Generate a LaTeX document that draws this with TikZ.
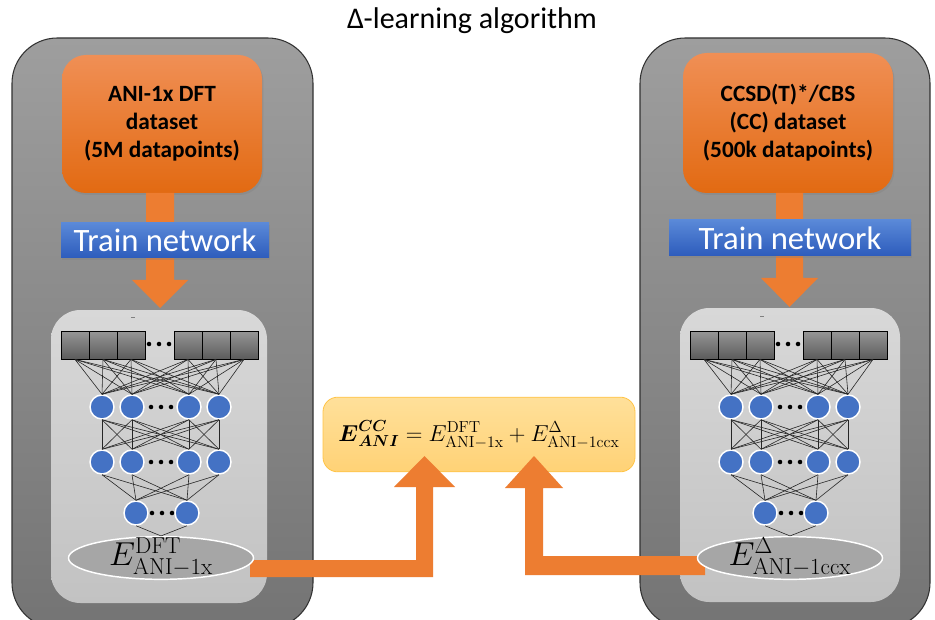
\documentclass[tikz,border=0pt]{standalone}
\usepackage{amsmath}
\usepackage[no-math]{fontspec}
\setmainfont{Carlito}
\usetikzlibrary{shapes.geometric,shadows,calc}

\definecolor{panelTop}{RGB}{158,158,158}
\definecolor{panelBot}{RGB}{116,116,116}
\definecolor{panelEdge}{RGB}{50,50,50}
\definecolor{innerTop}{RGB}{216,216,216}
\definecolor{innerBot}{RGB}{194,194,194}
\definecolor{orangeTop}{RGB}{240,143,85}
\definecolor{orangeBot}{RGB}{226,106,18}
\definecolor{blueTop}{RGB}{90,137,216}
\definecolor{blueBot}{RGB}{45,92,188}
\definecolor{arrowOrange}{RGB}{237,125,49}
\definecolor{neuronBlue}{RGB}{68,114,196}
\definecolor{formulaTop}{RGB}{255,224,154}
\definecolor{formulaBot}{RGB}{255,210,118}
\definecolor{formulaEdge}{RGB}{255,196,70}
\definecolor{outFill}{RGB}{166,166,166}
\definecolor{layerTop}{RGB}{150,150,150}
\definecolor{layerBot}{RGB}{92,92,92}

\tikzset{
  panel/.style={draw=panelEdge, line width=0.8pt, rounded corners=34pt,
    top color=panelTop, bottom color=panelBot},
  innerpanel/.style={rounded corners=22pt, top color=innerTop, bottom color=innerBot},
  srcbox/.style={rounded corners=18pt, top color=orangeTop, bottom color=orangeBot,
    align=center, inner sep=0pt,
    font=\bfseries\fontsize{17.5}{21}\selectfont,
    drop shadow={opacity=0.35, shadow xshift=1pt, shadow yshift=-1.5pt}},
  trainbox/.style={top color=blueTop, bottom color=blueBot, text=white, inner sep=0pt,
    font=\fontsize{24.5}{27}\selectfont,
    drop shadow={opacity=0.35, shadow xshift=1pt, shadow yshift=-1.5pt}},
  fatarrow/.style={fill=arrowOrange},
  layerbox/.style={draw=black, line width=0.6pt, top color=layerTop, bottom color=layerBot,
    minimum width=21pt, minimum height=21pt, inner sep=0pt},
  neuron/.style={circle, fill=neuronBlue, draw=white, line width=1.1pt,
    minimum size=18pt, inner sep=0pt},
  wire/.style={draw=black!85, line width=0.45pt},
  outnode/.style={ellipse, fill=outFill, draw=white, line width=1.1pt,
    minimum width=138.75pt, minimum height=32pt, inner sep=0pt},
  outtext/.style={font=\fontsize{27}{29}\selectfont, inner sep=0pt},
  formulabox/.style={rounded corners=11pt, top color=formulaTop, bottom color=formulaBot,
    draw=formulaEdge, line width=0.6pt, minimum width=234pt, minimum height=56pt,
    inner sep=0pt, font=\fontsize{17.5}{20}\selectfont},
}

% one neural network: prefix, horizontal offset, output label
\newcommand{\annnet}[3]{%
  \begin{scope}[shift={(#2,0)}]
    \foreach \i/\x in {1/75,2/103,3/131,4/188,5/216,6/244}
      \node[layerbox] (#1b\i) at (\x,345) {};
    \foreach \i/\x in {1/102,2/132,3/189,4/219} {
      \node[neuron] (#1p\i) at (\x,407) {};
      \node[neuron] (#1q\i) at (\x,462) {};
    }
    \node[neuron] (#1r1) at (136,513) {};
    \node[neuron] (#1r2) at (187,513) {};
    \node[outnode] (#1out) at (161,558) {};
    \node[outtext] (#1outtext) at ([yshift=1pt]#1out.center) {#3};
    % ellipsis dots between units
    \foreach \d in {0,10,20} {
      \fill (149+\d,344) circle (1.7pt);
      \fill (151+\d,407) circle (1.7pt);
      \fill (151+\d,462) circle (1.7pt);
      \fill (152+\d,513) circle (1.7pt);
    }
    % connections
    \foreach \i in {1,...,6}
      \foreach \j in {1,...,4}
        \draw[wire] (#1b\i.south) -- (#1p\j.north);
    \foreach \i in {1,...,4}
      \foreach \j in {1,...,4}
        \draw[wire] (#1p\i.south) -- (#1q\j.north);
    \foreach \i in {1,...,4}
      \foreach \j in {1,2}
        \draw[wire] (#1q\i.south) -- (#1r\j.north);
    \draw[wire] (#1r1.south) -- (#1out.north);
    \draw[wire] (#1r2.south) -- (#1out.north);
  \end{scope}}

\begin{document}
\begin{tikzpicture}[x=0.75pt,y=-0.75pt]
\useasboundingbox[fill=white] (0,0) rectangle (935,620);

% title
\node[font=\fontsize{22.5}{26}\selectfont] (title) at (472,21) {Δ-learning algorithm};

% outer panels
\draw[panel] (12,38) rectangle (313,628);
\draw[panel] (640,38) rectangle (930,628);

% inner network panels
\path[innerpanel] (51,310) rectangle (267,603);
\path[innerpanel] (680,308) rectangle (900,602);
\draw[gray, line width=0.4pt] (131,317) -- (135,317);
\draw[gray, line width=0.4pt] (760,316) -- (764,316);

% datasets
\node[srcbox, minimum width=150pt, minimum height=103.5pt] (Ldata) at (162,124)
  {ANI-1x DFT\\dataset\\(5M datapoints)};
\node[srcbox, minimum width=157.5pt, minimum height=105pt] (Rdata) at (788,123)
  {CCSD(T)*/CBS\\(CC) dataset\\(500k datapoints)};

% training arrows
\fill[fatarrow] (146,193) -- (174,193) -- (174,280) -- (188,280) -- (160,308)
  -- (132,280) -- (146,280) -- cycle;
\fill[fatarrow] (776,193) -- (803,193) -- (803,278) -- (818,278) -- (789.5,307)
  -- (761,278) -- (776,278) -- cycle;

\node[trainbox, minimum width=156pt, minimum height=26.25pt] (Ltrain) at (165,240.5) {Train network};
\node[trainbox, minimum width=181.5pt, minimum height=27pt] (Rtrain) at (790,238) {Train network};

% combined energy
\node[formulabox] (sum) at (479,434.5)
  {$\boldsymbol{E}^{\boldsymbol{CC}}_{\boldsymbol{ANI}} = E^{\mathrm{DFT}}_{\mathrm{ANI}-\mathrm{1x}} + E^{\Delta}_{\mathrm{ANI}-\mathrm{1ccx}}$};

% output arrows into the sum
\fill[fatarrow] (250,560) -- (416,560) -- (416,487) -- (394,487) -- (424.5,456)
  -- (455,487) -- (433,487) -- (433,577) -- (250,577) -- cycle;
\fill[fatarrow] (705,556) -- (543,556) -- (543,488) -- (563,488) -- (534,456)
  -- (505,488) -- (525,488) -- (525,575) -- (705,575) -- cycle;

% networks
\annnet{L}{0}{$E^{\mathrm{DFT}}_{\mathrm{ANI}-\mathrm{1x}}$}
\annnet{R}{629}{$E^{\Delta}_{\mathrm{ANI}-\mathrm{1ccx}}$}

\end{tikzpicture}
\end{document}
